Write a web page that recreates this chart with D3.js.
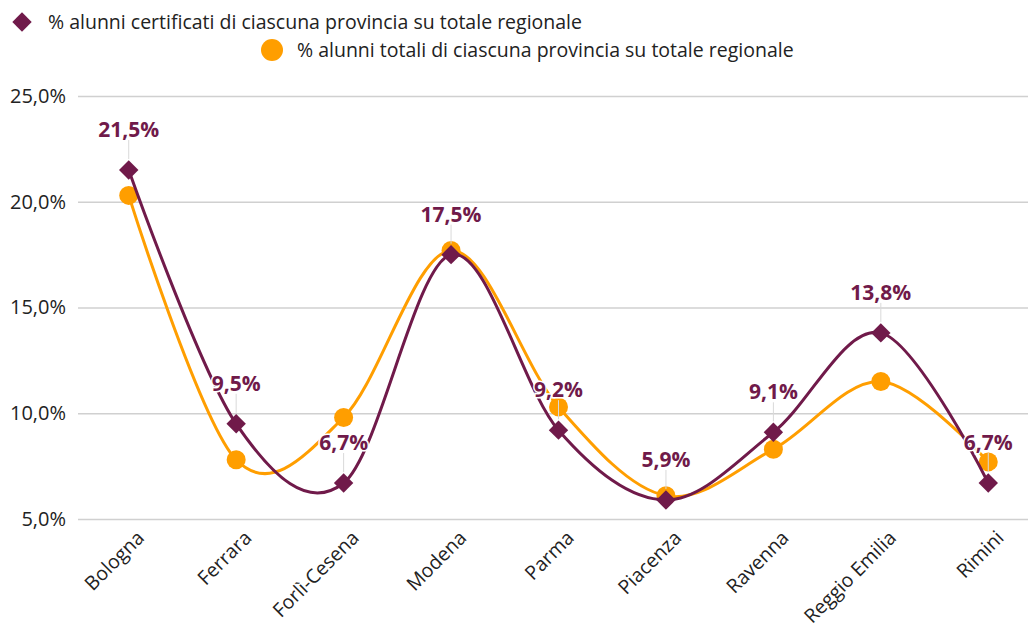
<!DOCTYPE html>
<meta charset="utf-8">
<style>
  body { margin: 0; background: #fff; }
  text { font-family: "Open Sans", Lato, sans-serif; }
</style>
<body>
<script src="https://cdn.jsdelivr.net/npm/d3@7"></script>
<script>

// data
var province = ["Bologna", "Ferrara", "Forlì-Cesena", "Modena", "Parma", "Piacenza", "Ravenna", "Reggio Emilia", "Rimini"];
var certificati = [21.5, 9.5, 6.7, 17.5, 9.2, 5.9, 9.1, 13.8, 6.7];
var totali = [20.3, 7.8, 9.8, 17.7, 10.3, 6.1, 8.3, 11.5, 7.7];
var yTicks = [5, 10, 15, 20, 25];
var nameCert = "% alunni certificati di ciascuna provincia su totale regionale";
var nameTot = "% alunni totali di ciascuna provincia su totale regionale";

var purple = "#701a4a",
    orange = "#ff9e00";

var width = 1028, height = 628;

var svg = d3.select("body").append("svg")
    .attr("width", width)
    .attr("height", height);

var x = d3.scalePoint().domain(province).range([75, 1042]).padding(0.5),
    y = d3.scaleLinear().domain([5, 25]).range([519, 96]);

var fmt = function(v) { return d3.format(".1f")(v).replace(".", ",") + "%"; };

// grid + y labels
var yAxis = d3.axisLeft(y)
    .tickValues(yTicks)
    .tickSize(-(width - 78))
    .tickFormat(fmt);

var gy = svg.append("g")
    .attr("transform", "translate(78,0)")
    .call(yAxis);
gy.select(".domain").remove();
gy.selectAll(".tick line").attr("stroke", "#d0d0d0").attr("stroke-width", 1.5);
gy.selectAll(".tick text")
    .attr("x", -12)
    .attr("fill", "#222")
    .style("font-size", "20px");

// x labels
var xAxis = d3.axisBottom(x).tickSize(0);
var gx = svg.append("g")
    .attr("transform", "translate(0,519)")
    .call(xAxis);
gx.select(".domain").remove();
gx.selectAll(".tick text")
    .attr("text-anchor", "end")
    .attr("dy", 0)
    .attr("transform", "translate(14,18) rotate(-45)")
    .attr("fill", "#222")
    .style("font-size", "19.5px");

var line = d3.line()
    .x(function(d, i) { return x(province[i]); })
    .y(function(d) { return y(d); })
    .curve(d3.curveCardinal.tension(0));

// orange series
svg.append("path")
    .datum(totali)
    .attr("fill", "none")
    .attr("stroke", orange)
    .attr("stroke-width", 3)
    .attr("d", line);

svg.append("g").selectAll("circle")
    .data(totali)
    .enter().append("circle")
    .attr("cx", function(d, i) { return x(province[i]); })
    .attr("cy", function(d) { return y(d); })
    .attr("r", 9.5)
    .attr("fill", orange);

// purple series
svg.append("path")
    .datum(certificati)
    .attr("fill", "none")
    .attr("stroke", purple)
    .attr("stroke-width", 3)
    .attr("d", line);

var diamond = d3.symbol().type(d3.symbolDiamond2).size(240);

svg.append("g").selectAll("path")
    .data(certificati)
    .enter().append("path")
    .attr("d", diamond)
    .attr("transform", function(d, i) {
      return "translate(" + x(province[i]) + "," + y(d) + ")";
    })
    .attr("fill", purple);

// leader lines + data labels
var lab = svg.append("g");
lab.selectAll("line")
    .data(certificati)
    .enter().append("line")
    .attr("x1", function(d, i) { return x(province[i]); })
    .attr("x2", function(d, i) { return x(province[i]); })
    .attr("y1", function(d) { return y(d) - 30; })
    .attr("y2", function(d) { return y(d) - 11; })
    .attr("stroke", "#d9d9d9")
    .attr("stroke-width", 1);

lab.selectAll("text")
    .data(certificati)
    .enter().append("text")
    .attr("x", function(d, i) { return x(province[i]); })
    .attr("y", function(d) { return y(d) - 33; })
    .attr("text-anchor", "middle")
    .attr("fill", purple)
    .style("font-size", "21px")
    .style("font-weight", "bold")
    .style("paint-order", "stroke")
    .style("stroke", "#fff")
    .style("stroke-width", "3px")
    .text(fmt);

// legend
var leg1 = svg.append("g").attr("transform", "translate(22,22)");
leg1.append("path")
    .attr("d", diamond)
    .attr("fill", purple);
leg1.append("text")
    .attr("x", 26)
    .attr("dy", "0.35em")
    .attr("fill", "#222")
    .style("font-size", "19.5px")
    .text(nameCert);

var leg2 = svg.append("g").attr("transform", "translate(272,50)");
leg2.append("circle")
    .attr("r", 11)
    .attr("fill", orange);
leg2.append("text")
    .attr("x", 25)
    .attr("dy", "0.35em")
    .attr("fill", "#222")
    .style("font-size", "19.5px")
    .text(nameTot);

</script>
</body>
